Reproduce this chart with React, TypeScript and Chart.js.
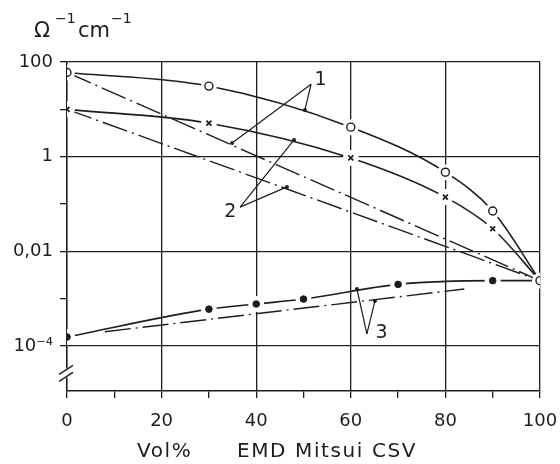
import React, { useEffect, useRef } from 'react';
import { Chart, registerables } from 'chart.js';

Chart.register(...registerables);

const INK = '#1d1d1d';
const FONT = '"DejaVu Sans", sans-serif';

// Material 1 (open circles): measured curve and dash-dot curve
const x1 = [0, 30, 60, 80, 90, 100];
const y1Measured = [60, 31, 4.2, 0.47, 0.071, 0.0024];
const x1Calc = [0, 100];
const y1Calc = [60, 0.0024];

// Material 2 (crosses)
const x2 = [0, 30, 60, 80, 90, 100];
const y2Measured = [10, 5.1, 0.94, 0.14, 0.03, 0.0024];
const x2Calc = [0, 100];
const y2Calc = [10, 0.0024];

// Material 3 (filled dots)
const x3 = [0, 30, 40, 50, 70, 90, 100];
const y3Measured = [1.55e-4, 6.0e-4, 7.7e-4, 9.8e-4, 2.0e-3, 2.4e-3, 2.4e-3];
const x3Calc = [8, 84];
const y3Calc = [2.0e-4, 1.6e-3];

// Axis ticks
const xMin = 0;
const xMax = 100;
const xStep = 10;
const xLabelEvery = 20;
const yMin = 1.12e-5;
const yMax = 100;
const yTickValues = [1e-4, 1e-3, 1e-2, 1e-1, 1, 10, 100];
const yTickLabels = ['10\u207B\u2074', '', '0,01', '', '1', '', '100'];
const yBreakValue = Math.pow(10, -4.58);

// Callouts "1", "2", "3" (data coordinates)
const calloutText = ['1', '2', '3'];
const calloutLabelX = [53.6, 34.5, 66.5];
const calloutLabelY = [42, 0.068, 1.9e-4];
const calloutVertexX = [51.6, 36.6, 63.4];
const calloutVertexY = [34, 0.086, 1.8e-4];
const calloutTargetX = [[34.9, 50.3], [48, 46.5], [61.3, 65.1]];
const calloutTargetY = [[1.95, 9.7], [2.25, 0.23], [1.6e-3, 8.9e-4]];

const pts = (xs: number[], ys: number[]) => xs.map((x, i) => ({ x, y: ys[i] }));

const DASHDOT = [26, 5, 2, 5];

const decorPlugin = {
  id: 'decor',
  afterDatasetsDraw(chart: any) {
    const { ctx, scales } = chart;
    const xs = scales.x;
    const ys = scales.y;
    ctx.save();
    ctx.strokeStyle = INK;
    ctx.fillStyle = INK;
    ctx.lineWidth = 1.2;
    for (let i = 0; i < calloutText.length; i++) {
      const vx = xs.getPixelForValue(calloutVertexX[i]);
      const vy = ys.getPixelForValue(calloutVertexY[i]);
      for (let j = 0; j < calloutTargetX[i].length; j++) {
        const tx = xs.getPixelForValue(calloutTargetX[i][j]);
        const ty = ys.getPixelForValue(calloutTargetY[i][j]);
        ctx.beginPath();
        ctx.moveTo(vx, vy);
        ctx.lineTo(tx, ty);
        ctx.stroke();
        ctx.beginPath();
        ctx.arc(tx, ty, 2, 0, Math.PI * 2);
        ctx.fill();
      }
      ctx.font = `19px ${FONT}`;
      ctx.textAlign = 'center';
      ctx.textBaseline = 'middle';
      ctx.fillText(
        calloutText[i],
        xs.getPixelForValue(calloutLabelX[i]),
        ys.getPixelForValue(calloutLabelY[i])
      );
    }
    ctx.restore();
  },
  afterDraw(chart: any) {
    const { ctx, scales, chartArea } = chart;
    const ys = scales.y;
    ctx.save();
    // axis break
    const xa = chartArea.left;
    const yb = ys.getPixelForValue(yBreakValue);
    ctx.fillStyle = '#ffffff';
    ctx.fillRect(xa - 2, yb - 5, 4, 9);
    ctx.strokeStyle = INK;
    ctx.lineWidth = 1.4;
    ctx.beginPath();
    ctx.moveTo(xa - 8, yb + 1);
    ctx.lineTo(xa + 6, yb - 8);
    ctx.moveTo(xa - 8, yb + 8);
    ctx.lineTo(xa + 6, yb - 1);
    ctx.stroke();

    // unit title
    ctx.fillStyle = INK;
    ctx.textBaseline = 'alphabetic';
    ctx.textAlign = 'left';
    ctx.font = `21px ${FONT}`;
    ctx.fillText('\u03A9', 34, 37);
    ctx.fillText('cm', 78, 37);
    ctx.font = `14px ${FONT}`;
    ctx.fillText('\u22121', 55, 23);
    ctx.fillText('\u22121', 111, 23);

    // x axis title
    ctx.font = `20px ${FONT}`;
    (ctx as any).letterSpacing = '1.6px';
    ctx.fillText('Vol%', 137, 457);
    ctx.fillText('EMD Mitsui CSV', 237, 457);
    ctx.restore();
  },
};

export default function App() {
  const ref = useRef<HTMLCanvasElement | null>(null);

  useEffect(() => {
    if (!ref.current) return;
    const lineBase = {
      borderColor: INK,
      pointRadius: 0,
      fill: false,
      cubicInterpolationMode: 'monotone' as const,
      order: 10,
    };
    const halo = (data: any[]) => ({
      data,
      showLine: false,
      pointRadius: 8,
      pointBackgroundColor: '#ffffff',
      pointBorderColor: '#ffffff',
      pointBorderWidth: 0,
      order: 5,
    });
    const chart = new Chart(ref.current, {
      type: 'line',
      data: {
        datasets: [
          { ...lineBase, data: pts(x1, y1Measured), borderWidth: 1.6 },
          { ...lineBase, data: pts(x1Calc, y1Calc), borderWidth: 1.4, borderDash: DASHDOT },
          { ...lineBase, data: pts(x2, y2Measured), borderWidth: 1.6 },
          { ...lineBase, data: pts(x2Calc, y2Calc), borderWidth: 1.4, borderDash: DASHDOT },
          { ...lineBase, data: pts(x3, y3Measured), borderWidth: 1.6 },
          { ...lineBase, data: pts(x3Calc, y3Calc), borderWidth: 1.4, borderDash: DASHDOT },
          halo(pts(x1, y1Measured)),
          halo(pts(x2.slice(0, -1), y2Measured.slice(0, -1))),
          halo(pts(x3.slice(0, -1), y3Measured.slice(0, -1))),
          {
            data: pts(x1, y1Measured),
            showLine: false,
            pointStyle: 'circle',
            pointRadius: 4,
            pointBackgroundColor: '#ffffff',
            pointBorderColor: INK,
            pointBorderWidth: 1.4,
            order: 1,
          },
          {
            data: pts(x2.slice(0, -1), y2Measured.slice(0, -1)),
            showLine: false,
            pointStyle: 'crossRot',
            pointRadius: 3.5,
            pointBorderColor: INK,
            pointBorderWidth: 1.8,
            order: 1,
          },
          {
            data: pts(x3.slice(0, -1), y3Measured.slice(0, -1)),
            showLine: false,
            pointStyle: 'circle',
            pointRadius: 3.3,
            pointBackgroundColor: INK,
            pointBorderColor: INK,
            pointBorderWidth: 1,
            order: 1,
          },
        ] as any,
      },
      options: {
        animation: false,
        responsive: false,
        devicePixelRatio: 1,
        layout: { autoPadding: false, padding: { top: 62, right: 20, left: 0, bottom: 0 } },
        plugins: {
          legend: { display: false },
          tooltip: { enabled: false },
          title: { display: false },
        },
        scales: {
          x: {
            type: 'linear',
            min: xMin,
            max: xMax,
            afterFit: (s: any) => {
              s.height = 73;
              s.paddingLeft = 0;
              s.paddingRight = 0;
            },
            ticks: {
              stepSize: xStep,
              autoSkip: false,
              maxRotation: 0,
              padding: 13,
              color: INK,
              font: { family: FONT, size: 18 },
              callback: (v: any) => (Number(v) % xLabelEvery === 0 ? String(v) : ''),
            },
            grid: {
              color: (c: any) =>
                c.tick && c.tick.value % xLabelEvery === 0 ? INK : 'rgba(0,0,0,0)',
              tickColor: INK,
              lineWidth: 1.3,
              tickLength: 7,
            },
            border: { color: INK, width: 1.4 },
          },
          y: {
            type: 'logarithmic',
            min: yMin,
            max: yMax,
            afterFit: (s: any) => {
              s.width = 67;
              s.paddingTop = 0;
              s.paddingBottom = 0;
            },
            afterBuildTicks: (s: any) => {
              s.ticks = yTickValues.map((v) => ({ value: v }));
            },
            ticks: {
              autoSkip: false,
              padding: 7,
              color: INK,
              font: { family: FONT, size: 18 },
              callback: (v: any) => {
                const i = yTickValues.findIndex((t) => Math.abs(Math.log10(t) - Math.log10(Number(v))) < 1e-6);
                return i >= 0 ? yTickLabels[i] : '';
              },
            },
            grid: {
              color: (c: any) => {
                if (!c.tick) return 'rgba(0,0,0,0)';
                const i = yTickValues.findIndex((t) => Math.abs(Math.log10(t) - Math.log10(c.tick.value)) < 1e-6);
                return i >= 0 && yTickLabels[i] !== '' ? INK : 'rgba(0,0,0,0)';
              },
              tickColor: INK,
              lineWidth: 1.3,
              tickLength: 7,
            },
            border: { color: INK, width: 1.4 },
          },
        },
      } as any,
      plugins: [decorPlugin],
    });
    return () => chart.destroy();
  }, []);

  return (
    <div style={{ position: 'fixed', left: 0, top: 0, width: 560, height: 464, background: '#ffffff' }}>
      <canvas ref={ref} width={560} height={464} style={{ display: 'block' }} />
    </div>
  );
}
